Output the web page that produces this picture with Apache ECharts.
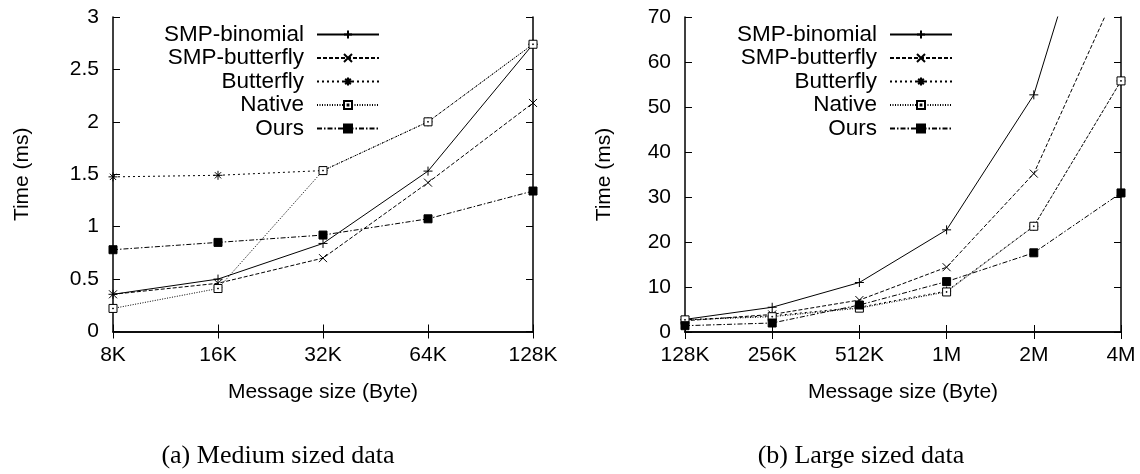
<!DOCTYPE html>
<html>
<head>
<meta charset="utf-8">
<script src="https://cdn.jsdelivr.net/npm/echarts@6/dist/echarts.min.js"></script>
<style>
  html, body { margin: 0; padding: 0; background: #fff; }
  #chart { width: 1140px; height: 474px; }
</style>
</head>
<body>
<div id="chart"></div>
<script>
// Message sizes (x categories) for the two panels
const sizesMedium = ['8K', '16K', '32K', '64K', '128K'];
const sizesLarge = ['128K', '256K', '512K', '1M', '2M', '4M'];

const seriesNames = ['SMP-binomial', 'SMP-butterfly', 'Butterfly', 'Native', 'Ours'];

// Panel (a): medium sized messages, time in ms
const mediumBinomial     = [0.355, 0.50, 0.84, 1.53, 2.74];
const mediumSmpButterfly = [0.355, 0.46, 0.70, 1.42, 2.18];
const mediumButterfly    = [1.475, 1.49, 1.535, 2.00, 2.74];
const mediumNative       = [0.22, 0.41, 1.535, 2.00, 2.74];
const mediumOurs         = [0.78, 0.85, 0.92, 1.075, 1.34];

// Panel (b): large sized messages, time in ms
const largeBinomial     = [2.8, 5.5, 11.0, 22.7, 52.7, 116];
const largeSmpButterfly = [2.5, 3.9, 7.1, 14.4, 35.2, 78];
const largeButterfly    = [2.7, 3.6, 5.5, 9.1, 23.5, 55.8];
const largeNative       = [2.7, 3.4, 5.3, 8.9, 23.5, 55.8];
const largeOurs         = [1.4, 2.0, 6.0, 11.2, 17.6, 30.9];

const captionA = '(a) Medium sized data';
const captionB = '(b) Large sized data';
const xName = 'Message size (Byte)';
const yName = 'Time (ms)';

const SANS = '"Liberation Sans", Arial, Helvetica, sans-serif';
const SERIF = '"Liberation Serif", "Times New Roman", serif';
const FS = 21;
const LEGEND_FS = 22.5;

// gnuplot-like point shapes
const PLUS  = 'path://M0,5L10,5M5,0L5,10';
const CROSS = 'path://M0,0L10,10M10,0L0,10';
const STAR  = 'path://M0,5L10,5M5,0L5,10M1.5,1.5L8.5,8.5M8.5,1.5L1.5,8.5';
const BOX   = 'path://M0,0L10,0L10,10L0,10Z M4.5,4.5L5.5,4.5L5.5,5.5L4.5,5.5Z';

const markStyles = [
  { symbol: PLUS,   size: 9, dash: 'solid',        fill: '#000' },
  { symbol: CROSS,  size: 8, dash: [4, 2],         fill: '#000' },
  { symbol: STAR,   size: 9, dash: [2, 3],         fill: '#000' },
  { symbol: BOX,    size: 8, dash: [1, 1.5],       fill: '#fff' },
  { symbol: 'rect', size: 8, dash: [5, 2, 1.5, 2], fill: '#000' }
];

function buildSeries(gridIdx, arrays) {
  return arrays.map((values, i) => {
    const st = markStyles[i];
    return {
      name: seriesNames[i],
      type: 'line',
      xAxisIndex: gridIdx,
      yAxisIndex: gridIdx,
      data: values,
      symbol: st.symbol,
      symbolSize: st.size,
      symbolKeepAspect: true,
      showAllSymbol: true,
      clip: true,
      lineStyle: { color: '#000', width: 1, type: st.dash },
      itemStyle: { color: st.fill, borderColor: '#000', borderWidth: 1 },
      emphasis: { disabled: true },
      z: 2 + i
    };
  });
}

const axisLineStyle = { color: '#000', width: 1.5 };
const tickStyle = { show: true, inside: true, length: 7, lineStyle: { color: '#000', width: 1 } };

function xAxisPair(gridIdx, cats) {
  return {
    bottom: {
      type: 'category', gridIndex: gridIdx, data: cats, boundaryGap: false, position: 'bottom',
      axisLine: { show: true, lineStyle: axisLineStyle },
      axisTick: Object.assign({ alignWithLabel: true }, tickStyle),
      axisLabel: { show: true, color: '#000', fontSize: FS, fontFamily: SANS, margin: 13, interval: 0 },
      splitLine: { show: false },
      name: xName, nameLocation: 'middle', nameGap: 50,
      nameTextStyle: { color: '#000', fontSize: FS, fontFamily: SANS }
    },
    top: {
      type: 'category', gridIndex: gridIdx, data: cats, boundaryGap: false, position: 'top',
      axisLine: { show: true, lineStyle: axisLineStyle },
      axisTick: tickStyle,
      axisLabel: { show: false },
      splitLine: { show: false }
    }
  };
}

function yAxisPair(gridIdx, max, interval, nameGap) {
  return {
    left: {
      type: 'value', gridIndex: gridIdx, min: 0, max: max, interval: interval, position: 'left',
      axisLine: { show: true, lineStyle: axisLineStyle },
      axisTick: tickStyle,
      axisLabel: { show: true, color: '#000', fontSize: FS, fontFamily: SANS, margin: 14 },
      splitLine: { show: false },
      name: yName, nameLocation: 'middle', nameGap: nameGap, nameRotate: 90,
      nameTextStyle: { color: '#000', fontSize: FS, fontFamily: SANS }
    },
    right: {
      type: 'value', gridIndex: gridIdx, min: 0, max: max, interval: interval, position: 'right',
      axisLine: { show: true, lineStyle: axisLineStyle },
      axisTick: tickStyle,
      axisLabel: { show: false },
      splitLine: { show: false }
    }
  };
}

const xa = xAxisPair(0, sizesMedium);
const xb = xAxisPair(1, sizesLarge);
const ya = yAxisPair(0, 3, 0.5, 80);
const yb = yAxisPair(1, 70, 10, 70);
// mirrored top/right axes belong to the same grid as their bottom/left partners
xa.top.gridIndex = 0; xb.top.gridIndex = 1;
ya.right.gridIndex = 0; yb.right.gridIndex = 1;

function legendAt(right) {
  return {
    data: seriesNames,
    orient: 'vertical',
    align: 'right',
    right: right,
    top: 23,
    padding: 0,
    itemWidth: 62,
    itemHeight: 10,
    itemGap: 0.5,
    selectedMode: false,
    textStyle: { color: '#000', fontSize: LEGEND_FS, fontFamily: SANS, padding: [0, 8, 0, 0] }
  };
}

const option = {
  animation: false,
  backgroundColor: '#fff',
  grid: [
    { left: 113, top: 17, width: 420, height: 314.5 },
    { left: 685, top: 17, width: 436, height: 315 }
  ],
  xAxis: [xa.bottom, xb.bottom, xa.top, xb.top],
  yAxis: [ya.left, yb.left, ya.right, yb.right],
  legend: [legendAt(760), legendAt(187)],
  series: buildSeries(0, [mediumBinomial, mediumSmpButterfly, mediumButterfly, mediumNative, mediumOurs])
    .concat(buildSeries(1, [largeBinomial, largeSmpButterfly, largeButterfly, largeNative, largeOurs])),
  graphic: [
    { type: 'text', x: 278, y: 456, style: { text: captionA, fill: '#000', font: '26px ' + SERIF, textAlign: 'center', textVerticalAlign: 'middle' } },
    { type: 'text', x: 861, y: 456, style: { text: captionB, fill: '#000', font: '26px ' + SERIF, textAlign: 'center', textVerticalAlign: 'middle' } }
  ]
};

const chart = echarts.init(document.getElementById('chart'), null, { renderer: 'canvas' });
chart.setOption(option);
</script>
</body>
</html>
